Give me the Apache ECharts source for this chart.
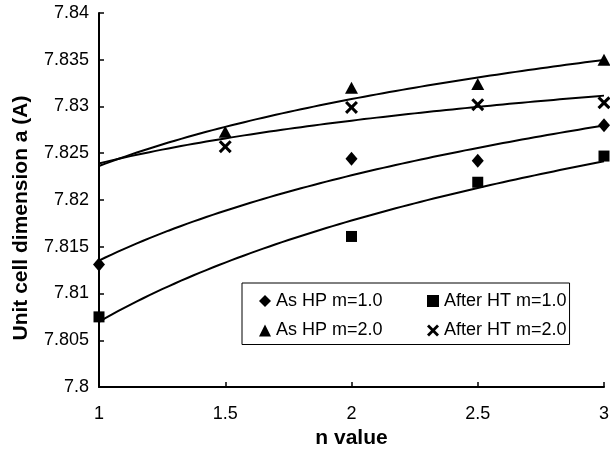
<!DOCTYPE html>
<html>
<head>
<meta charset="utf-8">
<script src="https://cdn.jsdelivr.net/npm/echarts@6/dist/echarts.min.js"></script>
<style>
  html, body { margin: 0; padding: 0; background: #ffffff; }
  #chart { width: 610px; height: 465px; }
</style>
</head>
<body>
<div id="chart"></div>
<script>
// n values along the horizontal axis
const nValues = [1, 1.5, 2, 2.5, 3];

// Unit cell dimension a (A) for each sample set (null = not measured)
const asHP1    = [7.8131, null,   7.8244, 7.8242, 7.8280];
const afterHT1 = [7.8075, null,   7.8161, 7.8219, 7.8247];
const asHP2    = [null,   7.8273, 7.8320, 7.8324, 7.8350];
const afterHT2 = [null,   7.8257, 7.8299, 7.8302, 7.8304];

const seriesNames = ['As HP m=1.0', 'After HT m=1.0', 'As HP m=2.0', 'After HT m=2.0'];

// Axis ticks
const xTicks = [1, 1.5, 2, 2.5, 3];
const yTicks = [7.8, 7.805, 7.81, 7.815, 7.82, 7.825, 7.83, 7.835, 7.84];

const FONT = '"Liberation Sans", Arial, Helvetica, sans-serif';
const crossPath = 'path://M0,2 L2,0 L6,4 L10,0 L12,2 L8,6 L12,10 L10,12 L6,8 L2,12 L0,10 L4,6 Z';

const markers = [
  { symbol: 'diamond',  size: [12, 14] },
  { symbol: 'rect',     size: 11 },
  { symbol: 'triangle', size: [13, 12] },
  { symbol: crossPath,  size: 13 }
];
const legendIcons = ['diamond', 'rect', 'triangle', crossPath];

const valueSets = [asHP1, afterHT1, asHP2, afterHT2];

// Logarithmic least-squares trendline: a = c0 + c1 * ln(n)
function logFit(xs, ys) {
  const pts = [];
  xs.forEach((x, i) => { if (ys[i] != null) pts.push([Math.log(x), ys[i]]); });
  const k = pts.length;
  const mx = pts.reduce((s, p) => s + p[0], 0) / k;
  const my = pts.reduce((s, p) => s + p[1], 0) / k;
  let sxy = 0, sxx = 0;
  pts.forEach(p => { sxy += (p[0] - mx) * (p[1] - my); sxx += (p[0] - mx) * (p[0] - mx); });
  const c1 = sxy / sxx;
  return [my - c1 * mx, c1];
}

function trendPoints(ys) {
  const [c0, c1] = logFit(nValues, ys);
  const lo = xTicks[0], hi = xTicks[xTicks.length - 1];
  const out = [];
  const steps = 80;
  for (let i = 0; i <= steps; i++) {
    const x = lo + (hi - lo) * i / steps;
    out.push([x, c0 + c1 * Math.log(x)]);
  }
  return out;
}

const series = [];
valueSets.forEach((ys, i) => {
  series.push({
    name: seriesNames[i] + ' trend',
    type: 'line',
    data: trendPoints(ys),
    showSymbol: false,
    symbol: 'none',
    silent: true,
    z: 2,
    lineStyle: { color: '#000', width: 2 }
  });
});
valueSets.forEach((ys, i) => {
  series.push({
    name: seriesNames[i],
    type: 'scatter',
    data: nValues.map((x, j) => ys[j] == null ? null : [x, ys[j]]).filter(d => d),
    symbol: markers[i].symbol,
    symbolSize: markers[i].size,
    itemStyle: { color: '#000', opacity: 1 },
    z: 3
  });
});

const legendText = { color: '#000', fontSize: 18, fontFamily: FONT, lineHeight: 20 };

const chart = echarts.init(document.getElementById('chart'), null, { renderer: 'canvas' });
chart.setOption({
  animation: false,
  backgroundColor: '#ffffff',
  grid: { left: 99, right: 6, top: 13, bottom: 78, containLabel: false, outerBoundsMode: 'none' },
  xAxis: {
    type: 'value',
    min: xTicks[0],
    max: xTicks[xTicks.length - 1],
    interval: xTicks[1] - xTicks[0],
    name: 'n value',
    nameLocation: 'middle',
    nameGap: 39,
    nameTextStyle: { color: '#000', fontSize: 21, fontWeight: 'bold', fontFamily: FONT },
    axisLine: { lineStyle: { color: '#000', width: 2 } },
    axisTick: { inside: true, length: 5, lineStyle: { color: '#000', width: 1.5 } },
    axisLabel: { color: '#000', fontSize: 18, fontFamily: FONT, margin: 18 },
    splitLine: { show: false }
  },
  yAxis: {
    type: 'value',
    min: yTicks[0],
    max: yTicks[yTicks.length - 1],
    interval: 0.005,
    axisLine: { show: true, lineStyle: { color: '#000', width: 2 } },
    axisTick: { show: true, inside: true, length: 5, lineStyle: { color: '#000', width: 1.5 } },
    axisLabel: { color: '#000', fontSize: 18, fontFamily: FONT, margin: 10 },
    splitLine: { show: false }
  },
  legend: [
    {
      data: [
        { name: seriesNames[0], icon: legendIcons[0] },
        { name: seriesNames[2], icon: legendIcons[2] }
      ],
      orient: 'vertical',
      left: 242,
      top: 283,
      padding: [8, 187, 4, 17],
      itemGap: 9.5,
      itemWidth: 12,
      itemHeight: 12,
      borderColor: '#000',
      borderWidth: 1,
      selectedMode: false,
      textStyle: legendText
    },
    {
      data: [
        { name: seriesNames[1], icon: legendIcons[1] },
        { name: seriesNames[3], icon: legendIcons[3] }
      ],
      orient: 'vertical',
      left: 427,
      top: 291,
      padding: 0,
      itemGap: 9.5,
      itemWidth: 12,
      itemHeight: 12,
      selectedMode: false,
      textStyle: legendText
    }
  ],
  graphic: [
    {
      type: 'text',
      x: 21,
      y: 218,
      rotation: Math.PI / 2,
      style: {
        text: 'Unit cell dimension a (A)',
        fill: '#000',
        font: 'bold 21px ' + FONT,
        align: 'center',
        verticalAlign: 'middle'
      }
    }
  ],
  series: series
});
</script>
</body>
</html>
